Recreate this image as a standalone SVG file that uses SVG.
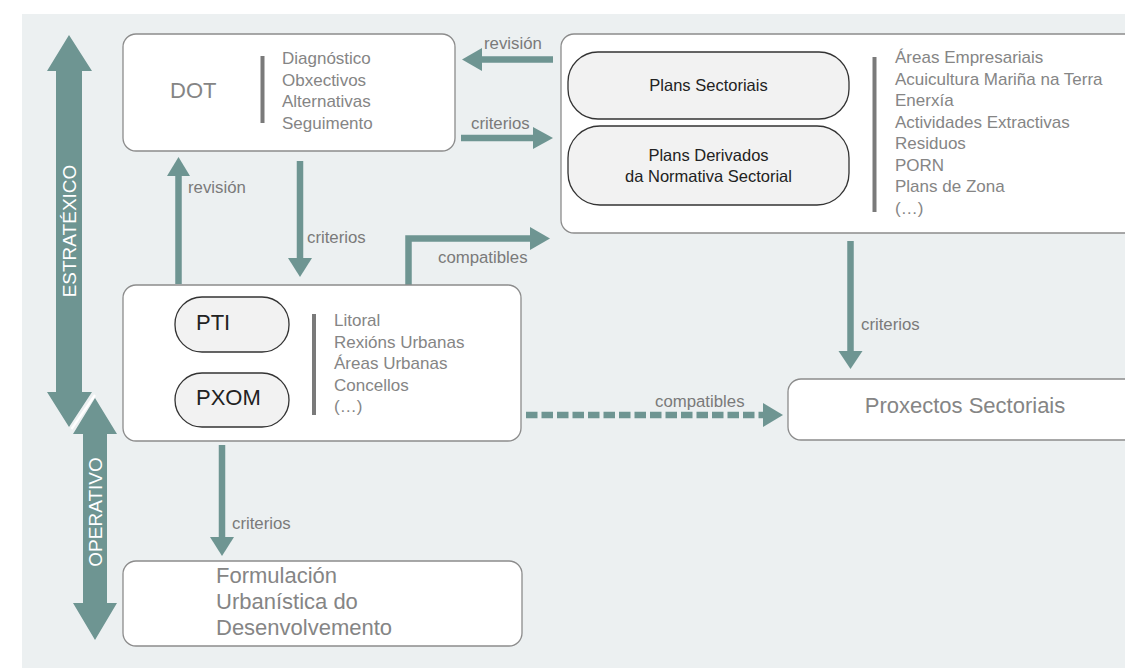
<svg xmlns="http://www.w3.org/2000/svg" width="1125" height="668" viewBox="0 0 1125 668">
<style>
  text { font-family: "Liberation Sans", Arial, sans-serif; }
  .box { fill: #ffffff; stroke: #8c8c8c; stroke-width: 1.3; }
  .pill { fill: #f2f2f2; stroke: #333333; stroke-width: 1.3; }
  .bar { fill: #7a7a7a; }
  .list { font-size: 17px; fill: #858585; }
  .lbl { font-size: 16.8px; fill: #7a7a7a; }
  .dark { fill: #222222; }
  .big { font-size: 22px; }
  .grey { fill: #858585; }
  .ar { fill: #6e9592; }
  .shaft { stroke: #6e9592; stroke-width: 6.5; fill: none; }
  .axis { font-size: 19px; fill: #ffffff; }
</style>
<rect x="22" y="14" width="1103" height="654" fill="#ecf0f1"/>

<g id="axis-arrows">
  <polygon class="ar" points="95,398 117,434 107,434 107,603 117,603 95,640 73,603 83,603 83,434 73,434"/>
  <polygon class="ar" points="69,35 92,71 82,71 82,392 92,392 69,427 47,392 56,392 56,71 47,71"/>
  <line x1="95" y1="395" x2="71.5" y2="429" stroke="#ffffff" stroke-width="2.2"/>
  <text class="axis" transform="translate(76,231) rotate(-90)" text-anchor="middle">ESTRATÉXICO</text>
  <text class="axis" transform="translate(102,512) rotate(-90)" text-anchor="middle">OPERATIVO</text>
</g>

<g id="connectors">
  <line class="shaft" x1="553" y1="59.5" x2="480" y2="59.5"/>
  <polygon class="ar" points="462,59.5 482,48 482,71"/>
  <text class="lbl" x="484" y="49">revisión</text>
  <line class="shaft" x1="461" y1="138" x2="535" y2="138"/>
  <polygon class="ar" points="553,138 533,127 533,149"/>
  <text class="lbl" x="471" y="129">criterios</text>
  <line class="shaft" x1="178.5" y1="284" x2="178.5" y2="174"/>
  <polygon class="ar" points="178.5,157 167,176 190,176"/>
  <text class="lbl" x="188" y="193">revisión</text>
  <line class="shaft" x1="300" y1="161" x2="300" y2="260"/>
  <polygon class="ar" points="300,277 288,258 312,258"/>
  <text class="lbl" x="307" y="243">criterios</text>
  <polyline class="shaft" points="408.5,285 408.5,238.5 532,238.5"/>
  <polygon class="ar" points="550,238.5 530,227 530,250"/>
  <text class="lbl" x="438" y="263">compatibles</text>
  <line class="shaft" x1="850.5" y1="241" x2="850.5" y2="354"/>
  <polygon class="ar" points="850.5,369 838.5,351 862.5,351"/>
  <text class="lbl" x="861" y="330">criterios</text>
  <line class="shaft" x1="526" y1="415" x2="764" y2="415" stroke-dasharray="11.5,4"/>
  <polygon class="ar" points="783,415 763,403 763,427"/>
  <text class="lbl" x="655" y="407">compatibles</text>
  <line class="shaft" x1="222" y1="445" x2="222" y2="540"/>
  <polygon class="ar" points="222,556 210,537 234,537"/>
  <text class="lbl" x="232" y="529">criterios</text>
</g>

<g id="node-dot">
  <rect class="box" x="123" y="34" width="332" height="117" rx="13"/>
  <text class="big grey" x="170" y="98">DOT</text>
  <rect class="bar" x="260.5" y="56" width="4" height="67"/>
  <text class="list" x="282" y="64">Diagnóstico</text>
  <text class="list" x="282" y="85.5">Obxectivos</text>
  <text class="list" x="282" y="107">Alternativas</text>
  <text class="list" x="282" y="128.5">Seguimento</text>
</g>

<g id="node-sectoriais">
  <rect class="box" x="561" y="34" width="580" height="199" rx="13"/>
  <g id="node-plans-sectoriais">
    <rect class="pill" x="568" y="52" width="281" height="67" rx="30"/>
    <text class="dark" x="708.5" y="91" font-size="16.5" text-anchor="middle">Plans Sectoriais</text>
  </g>
  <g id="node-plans-derivados">
    <rect class="pill" x="568" y="126" width="281" height="79" rx="32"/>
    <text class="dark" x="708.5" y="161" font-size="16.5" text-anchor="middle">Plans Derivados</text>
    <text class="dark" x="708.5" y="182" font-size="16.5" text-anchor="middle">da Normativa Sectorial</text>
  </g>
  <rect class="bar" x="872.5" y="57" width="4" height="155"/>
  <text class="list" x="895" y="63">Áreas Empresariais</text>
  <text class="list" x="895" y="84.5">Acuicultura Mariña na Terra</text>
  <text class="list" x="895" y="106">Enerxía</text>
  <text class="list" x="895" y="127.5">Actividades Extractivas</text>
  <text class="list" x="895" y="149">Residuos</text>
  <text class="list" x="895" y="170.5">PORN</text>
  <text class="list" x="895" y="192">Plans de Zona</text>
  <text class="list" x="895" y="213.5">(…)</text>
</g>

<g id="node-pti">
  <rect class="box" x="123" y="285" width="398" height="156" rx="13"/>
  <g id="node-pti-pill">
    <rect class="pill" x="175" y="297" width="114" height="55" rx="27"/>
    <text class="dark big" x="196" y="330">PTI</text>
  </g>
  <g id="node-pxom-pill">
    <rect class="pill" x="175" y="373" width="114" height="54" rx="27"/>
    <text class="dark big" x="196" y="405">PXOM</text>
  </g>
  <rect class="bar" x="312" y="314" width="4" height="101"/>
  <text class="list" x="334" y="326">Litoral</text>
  <text class="list" x="334" y="347.5">Rexións Urbanas</text>
  <text class="list" x="334" y="369">Áreas Urbanas</text>
  <text class="list" x="334" y="390.5">Concellos</text>
  <text class="list" x="334" y="412">(…)</text>
</g>

<g id="node-proxectos">
  <rect class="box" x="788" y="379" width="360" height="61" rx="13"/>
  <text class="big grey" x="965" y="413" text-anchor="middle">Proxectos Sectoriais</text>
</g>

<g id="node-formulacion">
  <rect class="box" x="123" y="561" width="399" height="85" rx="13"/>
  <text class="big grey" x="216" y="583">Formulación</text>
  <text class="big grey" x="216" y="609">Urbanística do</text>
  <text class="big grey" x="216" y="635">Desenvolvemento</text>
</g>
</svg>
